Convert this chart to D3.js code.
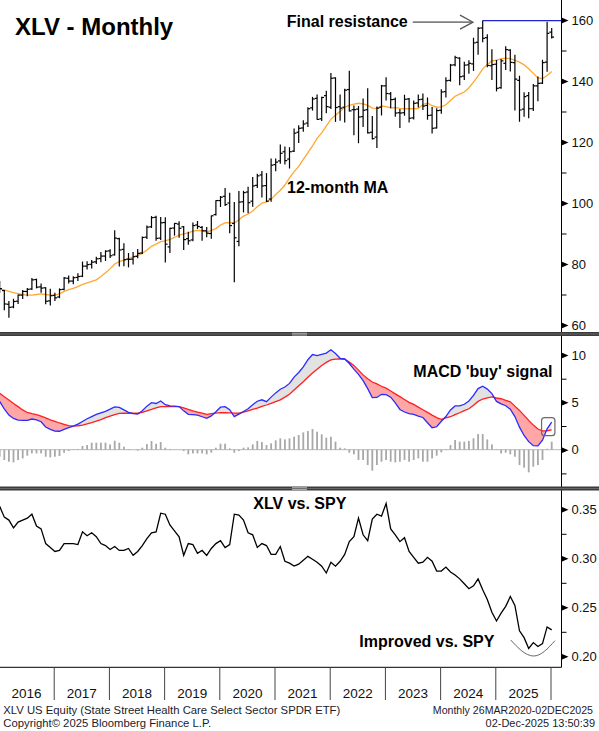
<!DOCTYPE html>
<html>
<head>
<meta charset="utf-8">
<script src="https://cdn.jsdelivr.net/npm/d3@7"></script>
<style>
  html, body { margin: 0; padding: 0; background: #fff; }
  svg { display: block; }
</style>
</head>
<body>
<div id="chart"></div>
<script>
// DATA (monthly, Dec 2015 ... Dec 2025)
const firstMonth = new Date(2015, 11, 1);
const lastMonth = new Date(2025, 11, 1);

const open = [73.6,
  71.3, 66.8, 65.9, 67.8, 69.8, 71.0, 71.8, 74.9, 72.5, 72.2, 67.9, 69.7,
  69.2, 71.7, 75.3, 74.4, 75.6, 76.0, 79.3, 79.9, 80.7, 81.8, 82.6, 84.3,
  83.0, 88.3, 84.8, 81.6, 81.6, 82.5, 83.6, 88.8, 92.2, 95.3, 88.5, 93.6,
  85.6, 91.8, 93.1, 92.2, 88.3, 87.9, 92.8, 92.0, 90.9, 90.0, 96.2, 100.8,
  102.2, 100.0, 93.3, 87.4, 100.4, 103.6, 100.6, 105.8, 109.2, 105.7, 101.3, 112.6,
  113.8, 116.8, 114.4, 117.0, 123.2, 124.6, 126.2, 131.2, 134.3, 127.6, 135.2, 131.4,
  141.0, 131.6, 131.4, 137.2, 130.6, 130.8, 128.3, 130.6, 123.2, 121.6, 131.4, 138.4,
  135.8, 134.0, 129.6, 129.6, 134.1, 127.9, 132.8, 134.0, 132.0, 128.8, 124.6, 130.4,
  136.5, 140.2, 145.3, 147.5, 141.6, 145.3, 145.6, 152.7, 157.4, 154.2, 145.0, 145.5,
  137.8, 145.8, 150.1, 146.0, 140.2, 130.8, 135.2, 130.9, 138.4, 139.3, 146.2, 156.0];

const high = [74.4,
  71.5, 67.9, 68.6, 70.0, 71.5, 72.1, 75.4, 75.2, 73.6, 72.4, 71.9, 70.6,
  72.0, 75.7, 76.2, 76.0, 77.0, 80.8, 80.9, 81.3, 82.4, 83.9, 84.5, 84.8,
  91.1, 88.6, 86.8, 83.6, 83.9, 84.9, 89.0, 92.6, 95.7, 95.8, 95.4, 95.3,
  91.9, 93.4, 94.0, 92.5, 90.6, 93.6, 94.1, 92.5, 92.1, 95.9, 100.9, 102.3,
  104.9, 103.4, 100.3, 103.9, 104.0, 105.3, 108.5, 109.6, 110.5, 109.8, 114.6, 114.6,
  119.2, 118.5, 118.3, 124.4, 125.5, 127.1, 131.4, 134.8, 135.6, 134.8, 136.8, 142.6,
  141.2, 135.6, 137.5, 143.4, 132.0, 131.8, 134.3, 137.6, 128.5, 131.6, 138.7, 141.2,
  136.4, 134.6, 130.8, 135.5, 134.4, 133.6, 135.6, 135.9, 134.6, 131.5, 131.1, 137.3,
  141.2, 145.6, 148.3, 147.8, 146.3, 146.8, 154.2, 157.6, 159.8, 155.3, 150.4, 146.9,
  147.2, 151.4, 150.4, 148.6, 141.7, 136.3, 136.4, 139.0, 141.5, 147.0, 159.4, 157.4];

const low = [70.6,
  64.8, 62.4, 65.5, 66.9, 68.5, 69.4, 71.5, 72.0, 70.6, 66.8, 66.4, 67.9,
  68.8, 71.4, 73.6, 73.4, 74.4, 75.7, 78.2, 78.5, 80.0, 80.6, 81.0, 82.0,
  82.8, 79.2, 79.3, 78.9, 79.8, 81.9, 83.3, 88.2, 91.8, 87.6, 87.9, 80.5,
  83.6, 89.3, 88.6, 84.6, 86.3, 87.5, 91.5, 87.6, 88.8, 88.3, 95.9, 98.7,
  99.0, 90.1, 74.0, 85.8, 96.9, 96.6, 98.8, 104.9, 101.8, 100.3, 100.4, 110.4,
  112.9, 112.6, 111.3, 116.7, 119.7, 123.4, 124.9, 130.3, 127.3, 126.9, 129.4, 130.8,
  126.6, 127.0, 126.4, 130.0, 122.2, 119.6, 124.9, 122.8, 120.8, 118.0, 128.7, 133.6,
  131.1, 128.3, 124.6, 128.6, 126.4, 127.4, 131.3, 130.5, 127.3, 122.8, 124.4, 129.3,
  134.6, 139.8, 144.8, 138.6, 140.3, 142.4, 143.3, 148.6, 152.7, 144.5, 140.3, 136.6,
  137.5, 143.6, 143.1, 130.3, 126.6, 128.3, 127.8, 130.2, 133.4, 139.0, 143.0, 153.9];

const close = [71.9,
  66.9, 65.8, 67.7, 69.8, 71.0, 71.7, 74.8, 72.4, 72.1, 67.8, 69.6, 68.9,
  71.6, 75.4, 74.4, 75.5, 75.9, 79.3, 79.8, 80.6, 81.7, 82.6, 84.2, 82.7,
  88.5, 84.6, 81.4, 81.5, 82.4, 83.5, 88.7, 92.1, 95.2, 88.4, 93.5, 86.5,
  91.7, 93.3, 91.7, 88.0, 87.6, 92.6, 92.3, 90.9, 90.1, 95.8, 100.8, 101.9,
  99.5, 92.6, 88.6, 100.3, 103.4, 100.1, 105.6, 108.9, 105.6, 100.6, 112.4, 113.4,
  116.3, 113.9, 116.8, 122.9, 124.5, 125.9, 130.9, 134.1, 127.4, 134.6, 131.6, 140.9,
  131.3, 131.1, 137.0, 130.2, 130.6, 128.2, 130.4, 123.0, 121.1, 131.1, 138.4, 135.9,
  133.9, 129.5, 129.5, 134.0, 127.8, 132.7, 133.9, 131.8, 128.7, 124.5, 130.3, 136.4,
  140.1, 145.2, 147.7, 141.4, 145.2, 145.8, 152.5, 157.3, 154.0, 145.1, 145.4, 137.6,
  146.6, 150.3, 146.1, 140.6, 130.5, 134.9, 130.9, 138.4, 139.2, 146.0, 155.6, 154.4];

// 12-month moving average
const ma12 = [71.8,
  71.5, 71.0, 70.6, 70.3, 70.0, 69.8, 69.8, 70.0, 70.2, 70.0, 69.8, 69.8,
  70.2, 71.0, 71.6, 72.0, 72.6, 73.3, 73.8, 74.3, 74.8, 75.9, 77.1, 78.4,
  80.0, 80.8, 81.3, 81.7, 82.3, 82.8, 83.5, 84.6, 85.8, 86.5, 87.3, 87.6,
  88.1, 88.7, 89.5, 89.9, 90.2, 90.8, 91.0, 90.9, 90.5, 91.0, 91.6, 92.8,
  93.5, 93.6, 93.4, 94.5, 95.7, 96.4, 97.4, 98.8, 100.0, 100.4, 101.2, 102.8,
  104.2, 105.9, 108.2, 110.3, 112.0, 114.3, 116.5, 118.7, 121.2, 123.0, 125.2, 127.5,
  128.8, 130.1, 131.4, 132.0, 132.4, 132.7, 132.5, 132.0, 131.1, 131.0, 131.8, 131.6,
  131.2, 131.3, 131.0, 130.9, 130.9, 130.9, 131.0, 132.3, 132.8, 131.9, 131.4, 131.5,
  132.2, 133.6, 135.0, 135.7, 136.4, 137.8, 139.6, 141.7, 144.0, 145.4, 146.6, 146.8,
  147.3, 147.5, 147.3, 146.8, 146.2, 145.3, 144.0, 142.5, 141.0, 140.8, 141.8, 143.1];

const macdLine = [5.1,
  4.3, 3.65, 3.3, 3.13, 3.1, 3.1, 3.24, 3.15, 2.95, 2.4, 2.15, 1.96,
  1.95, 2.15, 2.33, 2.49, 2.7, 2.98, 3.27, 3.5, 3.72, 3.9, 4.05, 4.28,
  4.53, 4.46, 4.2, 3.94, 3.8, 3.75, 4.12, 4.6, 4.96, 4.88, 5.15, 4.75,
  4.62, 4.6, 4.56, 4.1, 3.74, 3.7, 3.64, 3.48, 3.32, 3.57, 4.0, 4.49,
  4.54, 4.22, 3.5, 3.76, 4.03, 4.32, 4.74, 5.12, 5.27, 5.07, 5.55, 6.0,
  6.39, 6.62, 7.0, 7.67, 8.15, 8.75, 9.5, 10.05, 9.94, 10.07, 10.2, 10.55,
  10.15, 9.65, 9.58, 9.1, 8.5, 7.95, 7.3, 6.45, 5.5, 5.52, 5.85, 5.82,
  5.55, 4.95, 4.25, 3.98, 3.8, 3.73, 3.55, 3.4, 2.85, 2.32, 2.42, 3.0,
  3.5, 4.2, 4.62, 4.62, 4.8, 5.15, 5.73, 6.45, 6.7, 6.4, 5.92, 5.1,
  4.84, 4.64, 4.27, 3.5, 2.38, 1.5, 0.85, 0.43, 0.4, 1.0, 2.2, 2.9];

const signalLine = [5.97,
  5.6, 5.25, 4.88, 4.55, 4.2, 3.93, 3.8, 3.7, 3.55, 3.35, 3.14, 2.98,
  2.82, 2.68, 2.54, 2.5, 2.53, 2.6, 2.72, 2.86, 3.02, 3.18, 3.38, 3.55,
  3.7, 3.83, 3.86, 3.85, 3.85, 3.85, 3.93, 4.1, 4.25, 4.42, 4.55, 4.55,
  4.55, 4.55, 4.55, 4.42, 4.25, 4.1, 3.98, 3.86, 3.74, 3.8, 3.87, 3.92,
  3.9, 3.88, 3.86, 3.85, 3.96, 4.1, 4.25, 4.4, 4.57, 4.72, 4.9, 5.08,
  5.27, 5.55, 5.85, 6.3, 6.75, 7.18, 7.65, 8.1, 8.5, 8.9, 9.22, 9.48,
  9.57, 9.58, 9.55, 9.25, 8.9, 8.4, 7.9, 7.5, 7.15, 6.95, 6.7, 6.5,
  6.2, 5.9, 5.6, 5.3, 5.0, 4.78, 4.5, 4.22, 3.94, 3.65, 3.38, 3.2,
  3.35, 3.48, 3.7, 3.9, 4.12, 4.32, 4.7, 5.1, 5.35, 5.48, 5.58, 5.46,
  5.38, 5.22, 5.05, 4.6, 4.15, 3.63, 3.1, 2.6, 2.18, 1.98, 2.0, 2.1];

const macdHist = [-0.74,
  -1.09, -1.27, -1.34, -1.09, -0.92, -0.63, -0.39, -0.39, -0.39, -0.74, -0.81, -0.74,
  -0.67, -0.32, -0.14, -0.03, 0.07, 0.39, 0.49, 0.74, 0.74, 0.74, 0.74, 0.56,
  0.95, 0.74, 0.32, 0.07, 0.0, -0.1, 0.21, 0.6, 0.92, 0.63, 0.81, 0.21,
  0.07, 0.02, 0.0, -0.14, -0.49, -0.39, -0.39, -0.39, -0.49, -0.32, 0.21, 0.63,
  0.63, 0.14, -0.32, -0.14, 0.21, 0.25, 0.56, 0.92, 0.81, 0.49, 0.67, 0.99,
  1.2, 1.09, 1.2, 1.37, 1.55, 1.83, 1.97, 2.18, 1.9, 1.62, 1.27, 1.37,
  0.85, 0.21, 0.14, -0.32, -0.49, -1.09, -1.09, -1.62, -2.22, -1.62, -1.27, -1.09,
  -1.27, -1.34, -1.27, -1.09, -1.27, -1.09, -0.92, -1.27, -1.27, -0.92, -0.63, -0.28,
  0.07, 0.49, 1.02, 0.85, 0.85, 0.92, 1.2, 1.65, 1.65, 1.09, 0.56, 0.07,
  -0.39, -0.32, -0.49, -0.74, -1.62, -1.9, -2.39, -1.8, -1.62, -1.09, 0.1, 0.85];

// XLV / SPY ratio
const relSpy = [0.353,
  0.342, 0.339, 0.331, 0.337, 0.339, 0.341, 0.345, 0.333, 0.330, 0.315, 0.311, 0.307,
  0.308, 0.315, 0.315, 0.315, 0.314, 0.327, 0.323, 0.326, 0.322, 0.315, 0.313, 0.309,
  0.312, 0.308, 0.308, 0.310, 0.303, 0.307, 0.313, 0.320, 0.326, 0.327, 0.346, 0.345,
  0.334, 0.328, 0.322, 0.303, 0.315, 0.314, 0.305, 0.308, 0.303, 0.310, 0.315, 0.318,
  0.311, 0.314, 0.345, 0.344, 0.339, 0.326, 0.324, 0.311, 0.315, 0.313, 0.304, 0.304,
  0.312, 0.297, 0.295, 0.292, 0.294, 0.298, 0.302, 0.299, 0.296, 0.292, 0.285, 0.296,
  0.292, 0.297, 0.304, 0.317, 0.322, 0.341, 0.324, 0.318, 0.340, 0.345, 0.343, 0.356,
  0.330, 0.324, 0.317, 0.321, 0.307, 0.301, 0.295, 0.296, 0.301, 0.297, 0.287, 0.287,
  0.291, 0.286, 0.283, 0.279, 0.274, 0.269, 0.272, 0.279, 0.268, 0.258, 0.245, 0.236,
  0.244, 0.251, 0.261, 0.252, 0.226, 0.219, 0.208, 0.214, 0.210, 0.213, 0.230, 0.227];

const years = [2016, 2017, 2018, 2019, 2020, 2021, 2022, 2023, 2024, 2025];
const priceTicks = [60, 80, 100, 120, 140, 160];
const priceMinor = [70, 90, 110, 130, 150];
const macdTicks = [0, 5, 10];
const macdMinor = [-2.5, 2.5, 7.5];
const relTicks = [0.20, 0.25, 0.30, 0.35];
const relMinor = [0.225, 0.275, 0.325];

// annotations (month index, value)
const resistanceLevel = 159.8;
const resistanceFrom = 105;
const arrowLine = [[89.8, 159.3], [102.9, 159.3]];
const buyBox = { from: 117.8, to: 120.7, lo: 1.48, hi: 3.38 };
const improvedArc = [[111.1, 0.2166], [113.5, 0.2055], [116, 0.2003], [118.4, 0.2050], [120.7, 0.2159]];

// LAYOUT
const W = 599, H = 731;
const axisX = 561.5;
const pricePanel = [0, 332];
const macdPanel = [336, 486.5];
const relPanel = [490.5, 667.3];
const font = "'Liberation Sans', Arial, sans-serif";

const months = d3.timeMonth.range(firstMonth, d3.timeMonth.offset(lastMonth, 1));
const idx = months.map((d, i) => i);

const x = d3.scaleLinear().domain([0, months.length - 1]).range([-0.3, 551.7]);
const yP = d3.scaleLinear().domain([60, 160]).range([325, 20]);
const yM = d3.scaleLinear().domain([0, 10]).range([449.7, 355]);
const yR = d3.scaleLinear().domain([0.2, 0.35]).range([656.3, 509.3]);

const svg = d3.select("#chart").append("svg")
  .attr("width", W).attr("height", H)
  .style("font-family", font);

const defs = svg.append("defs");
function addClip(id, y0, y1) {
  defs.append("clipPath").attr("id", id)
    .append("rect").attr("x", 0).attr("y", y0).attr("width", axisX).attr("height", y1 - y0);
}
addClip("clipP", pricePanel[0], pricePanel[1]);
addClip("clipM", macdPanel[0], macdPanel[1]);
addClip("clipR", relPanel[0], relPanel[1]);

// ---------- PRICE PANEL ----------
const gP = svg.append("g").attr("clip-path", "url(#clipP)");

gP.append("path")
  .attr("d", d3.line().x(i => x(i)).y(i => yP(ma12[i]))(idx))
  .attr("fill", "none").attr("stroke", "#ffa733").attr("stroke-width", 1.3);

const bars = gP.append("g").attr("stroke", "#000").attr("stroke-width", 1.2)
  .selectAll("g").data(idx).join("g");
bars.append("line")
  .attr("x1", i => x(i)).attr("x2", i => x(i))
  .attr("y1", i => yP(high[i])).attr("y2", i => yP(low[i]));
bars.append("line")
  .attr("x1", i => x(i) - 2.3).attr("x2", i => x(i))
  .attr("y1", i => yP(open[i])).attr("y2", i => yP(open[i]));
bars.append("line")
  .attr("x1", i => x(i)).attr("x2", i => x(i) + 2.3)
  .attr("y1", i => yP(close[i])).attr("y2", i => yP(close[i]));

// final resistance
svg.append("line")
  .attr("x1", x(resistanceFrom)).attr("x2", axisX)
  .attr("y1", yP(resistanceLevel)).attr("y2", yP(resistanceLevel))
  .attr("stroke", "#1f24d0").attr("stroke-width", 1.3);

// arrow
const aTail = [x(arrowLine[0][0]), yP(arrowLine[0][1])];
const aTip = [x(arrowLine[1][0]), yP(arrowLine[1][1])];
svg.append("line")
  .attr("x1", aTail[0]).attr("y1", aTail[1]).attr("x2", aTip[0] - 1).attr("y2", aTip[1])
  .attr("stroke", "#808080").attr("stroke-width", 1.8);
svg.append("path")
  .attr("d", `M${aTip[0] - 13},${aTip[1] - 7}L${aTip[0]},${aTip[1]}L${aTip[0] - 13},${aTip[1] + 7}`)
  .attr("fill", "none").attr("stroke", "#555").attr("stroke-width", 1.2);

// ---------- MACD PANEL ----------
const gM = svg.append("g").attr("clip-path", "url(#clipM)");

defs.append("clipPath").attr("id", "aboveSig").append("path")
  .attr("d", d3.area().x(i => x(i)).y0(macdPanel[0]).y1(i => yM(signalLine[i]))(idx));
defs.append("clipPath").attr("id", "belowSig").append("path")
  .attr("d", d3.area().x(i => x(i)).y0(i => yM(signalLine[i])).y1(macdPanel[1])(idx));

const band = d3.area().x(i => x(i)).y0(i => yM(signalLine[i])).y1(i => yM(macdLine[i]));
gM.append("path").attr("d", band(idx)).attr("fill", "#e2e2e2").attr("clip-path", "url(#aboveSig)");
gM.append("path").attr("d", band(idx)).attr("fill", "#ffa7a7").attr("clip-path", "url(#belowSig)");

gM.append("line")
  .attr("x1", 0).attr("x2", axisX).attr("y1", yM(0)).attr("y2", yM(0))
  .attr("stroke", "#b8b8b8").attr("stroke-width", 1);

gM.append("g").selectAll("rect").data(idx).join("rect")
  .attr("x", i => x(i) - 0.9)
  .attr("width", 1.8)
  .attr("y", i => Math.min(yM(0), yM(macdHist[i])))
  .attr("height", i => Math.abs(yM(0) - yM(macdHist[i])))
  .attr("fill", "#a8a8a8");

gM.append("path")
  .attr("d", d3.line().x(i => x(i)).y(i => yM(signalLine[i]))(idx))
  .attr("fill", "none").attr("stroke", "#ff1f1f").attr("stroke-width", 1.3);
gM.append("path")
  .attr("d", d3.line().x(i => x(i)).y(i => yM(macdLine[i]))(idx))
  .attr("fill", "none").attr("stroke", "#2b2bff").attr("stroke-width", 1.3);

svg.append("rect")
  .attr("x", x(buyBox.from)).attr("y", yM(buyBox.hi))
  .attr("width", x(buyBox.to) - x(buyBox.from)).attr("height", yM(buyBox.lo) - yM(buyBox.hi))
  .attr("rx", 3).attr("fill", "none").attr("stroke", "#6a6a6a").attr("stroke-width", 1.2);

// ---------- RELATIVE PANEL ----------
const gR = svg.append("g").attr("clip-path", "url(#clipR)");
gR.append("path")
  .attr("d", d3.line().x(i => x(i)).y(i => yR(relSpy[i]))(idx))
  .attr("fill", "none").attr("stroke", "#000").attr("stroke-width", 1.3);

svg.append("path")
  .attr("d", d3.line().x(d => x(d[0])).y(d => yR(d[1])).curve(d3.curveNatural)(improvedArc))
  .attr("fill", "none").attr("stroke", "#555").attr("stroke-width", 0.9);

// ---------- AXES ----------
function rightAxis(scale, major, minor, fmt) {
  const g = svg.append("g").attr("transform", `translate(${axisX},0)`);
  const a = g.append("g").call(d3.axisRight(scale).tickValues(major).tickSize(0).tickPadding(10).tickFormat(fmt));
  a.select(".domain").remove();
  a.selectAll("text").attr("font-size", 13).attr("font-family", font).attr("fill", "#111");
  a.selectAll(".tick").append("path").attr("d", "M0,-3L7,0L0,3Z").attr("fill", "#000");
  const m = g.append("g").call(d3.axisRight(scale).tickValues(minor).tickSize(5).tickFormat(""));
  m.select(".domain").remove();
  m.selectAll("line").attr("stroke", "#000");
}
rightAxis(yP, priceTicks, priceMinor, d3.format("d"));
rightAxis(yM, macdTicks, macdMinor, d3.format("d"));
rightAxis(yR, relTicks, relMinor, d3.format(".2f"));

svg.append("line")
  .attr("x1", axisX).attr("x2", axisX).attr("y1", 0).attr("y2", relPanel[1])
  .attr("stroke", "#000").attr("stroke-width", 1);

// bottom time axis
svg.append("line")
  .attr("x1", 0).attr("x2", axisX).attr("y1", relPanel[1]).attr("y2", relPanel[1])
  .attr("stroke", "#000").attr("stroke-width", 1);

const decIdx = idx.filter(i => months[i].getMonth() === 11);
const dividers = decIdx.map(i => i - 0.15);
svg.append("g").selectAll("line").data(dividers.slice(1)).join("line")
  .attr("x1", d => x(d)).attr("x2", d => x(d))
  .attr("y1", relPanel[1]).attr("y2", 700)
  .attr("stroke", "#444").attr("stroke-width", 1);
svg.append("g").selectAll("text").data(years).join("text")
  .attr("x", (d, k) => (x(dividers[k]) + x(dividers[k + 1])) / 2)
  .attr("y", 697.5)
  .attr("text-anchor", "middle")
  .attr("font-size", 13.5)
  .attr("fill", "#111")
  .text(d => d);

// panel separators
[pricePanel[1], macdPanel[1]].forEach(y0 => {
  svg.append("rect").attr("x", 0).attr("y", y0).attr("width", W).attr("height", 4).attr("fill", "#3c3c3c");
  svg.append("rect").attr("x", 0).attr("y", y0 + 1.5).attr("width", W).attr("height", 1).attr("fill", "#666");
  [0.8, 2.6].forEach(dy => svg.append("rect").attr("x", 292).attr("y", y0 + dy)
    .attr("width", 15).attr("height", 0.8).attr("fill", "#c8c8c8"));
});

// ---------- TEXT ----------
function label(txt, xp, yp, size, anchor) {
  svg.append("text").attr("x", xp).attr("y", yp)
    .attr("font-size", size).attr("font-weight", "bold")
    .attr("text-anchor", anchor || "start").attr("fill", "#000").text(txt);
}
label("XLV - Monthly", 15, 34.5, 24);
label("Final resistance", aTail[0] - 5, 26.5, 16, "end");
label("12-month MA", 287, 193.3, 16);
label("MACD 'buy' signal", 413.3, 377.3, 16);
label("XLV vs. SPY", 253.3, 509, 16);
label("Improved vs. SPY", 359.3, 646.7, 16);

function foot(txt, xp, yp, size, anchor) {
  svg.append("text").attr("x", xp).attr("y", yp)
    .attr("font-size", size).attr("fill", "#1c1c2a")
    .attr("text-anchor", anchor || "start")
    .text(txt);
}
foot("XLV US Equity (State Street Health Care Select Sector SPDR ETF)", 3.3, 714.3, 11.3);
foot("Copyright\u00A9 2025 Bloomberg Finance L.P.", 3.3, 726.7, 11.3);
foot("Monthly 26MAR2020-02DEC2025", 593, 714.3, 10.6, "end");
foot("02-Dec-2025 13:50:39", 595, 726.7, 11, "end");
</script>
</body>
</html>
